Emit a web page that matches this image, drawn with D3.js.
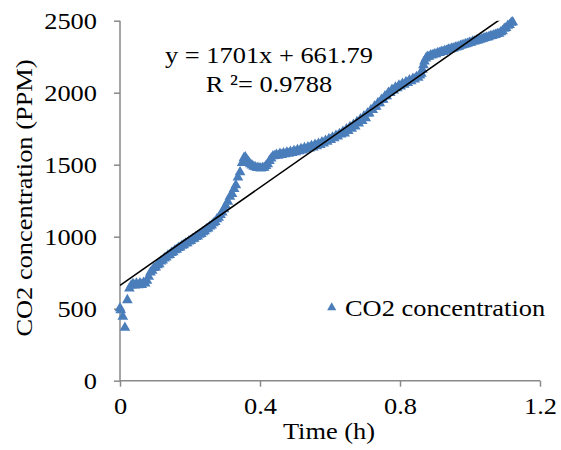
<!DOCTYPE html>
<html><head><meta charset="utf-8">
<script src="https://cdn.jsdelivr.net/npm/d3@7"></script>
<style>body{margin:0;background:#fff}</style>
</head><body>
<svg id="c" width="561" height="450"></svg>
<script>
const timeH = [0.000,0.002,0.008,0.014,0.021,0.027,0.032,0.037,0.042,0.047,0.052,0.057,0.062,0.067,0.072,0.077,0.082,0.087,0.092,0.097,
0.102,0.107,0.112,0.117,0.122,0.127,0.132,0.137,0.142,0.147,0.152,0.157,0.162,0.167,0.172,0.177,0.182,0.187,0.192,0.197,
0.202,0.207,0.212,0.217,0.222,0.227,0.232,0.237,0.242,0.247,0.252,0.257,0.262,0.267,0.272,0.277,0.282,0.287,0.292,0.297,
0.302,0.308,0.314,0.320,0.326,0.331,0.337,0.343,0.349,0.354,0.358,0.362,0.367,0.372,0.377,0.382,0.387,0.392,0.397,0.402,
0.407,0.412,0.417,0.422,0.427,0.432,0.437,0.442,0.447,0.452,0.457,0.462,0.467,0.472,0.477,0.482,0.487,0.492,0.497,0.502,
0.507,0.512,0.517,0.522,0.527,0.532,0.537,0.542,0.547,0.552,0.557,0.562,0.567,0.572,0.577,0.582,0.587,0.592,0.597,0.602,
0.607,0.612,0.617,0.622,0.627,0.632,0.637,0.642,0.647,0.652,0.657,0.662,0.667,0.672,0.677,0.682,0.687,0.692,0.697,0.702,
0.707,0.712,0.717,0.722,0.727,0.732,0.737,0.742,0.747,0.752,0.757,0.762,0.767,0.772,0.777,0.782,0.787,0.792,0.797,0.802,
0.807,0.812,0.817,0.822,0.827,0.832,0.837,0.842,0.847,0.852,0.857,0.861,0.864,0.867,0.870,0.874,0.878,0.883,0.888,0.893,
0.898,0.903,0.908,0.913,0.918,0.923,0.928,0.933,0.938,0.943,0.948,0.953,0.958,0.963,0.968,0.973,0.978,0.983,0.988,0.993,
0.998,1.003,1.008,1.013,1.018,1.023,1.028,1.033,1.038,1.043,1.048,1.053,1.058,1.063,1.068,1.073,1.078,1.083,1.088,1.093,
1.098,1.103,1.108,1.113,1.118,1.122];
const co2 = [503,490,445,368,560,641,662,672,661,675,664,677,666,680,676,694,722,752,764,783,
787,803,810,828,835,850,856,870,874,888,893,906,910,922,926,938,942,953,956,968,
970,983,986,998,1002,1014,1020,1032,1038,1052,1058,1072,1078,1094,1102,1122,1132,1152,1168,1192,
1216,1244,1278,1298,1332,1358,1412,1448,1512,1546,1552,1534,1520,1504,1496,1486,1483,1477,1477,1474,
1477,1479,1491,1504,1527,1543,1559,1561,1570,1563,1576,1568,1580,1573,1585,1577,1590,1582,1596,1587,
1602,1594,1609,1600,1616,1606,1622,1614,1630,1621,1638,1629,1646,1638,1656,1648,1666,1660,1678,1672,
1690,1684,1702,1696,1714,1710,1730,1718,1746,1734,1762,1750,1778,1766,1796,1786,1816,1804,1836,1824,
1856,1856,1880,1880,1904,1904,1928,1928,1952,1952,1976,1976,2000,1998,2020,2016,2036,2032,2050,2044,
2062,2056,2074,2068,2086,2080,2098,2092,2110,2104,2120,2132,2160,2192,2218,2238,2250,2250,2260,2260,
2268,2268,2276,2276,2284,2284,2292,2292,2300,2300,2308,2308,2314,2316,2320,2326,2330,2334,2338,2340,
2348,2348,2356,2356,2362,2364,2368,2372,2376,2380,2384,2386,2392,2394,2400,2402,2408,2410,2420,2428,
2444,2450,2466,2470,2486,2490];
const xTicks = [0, 0.4, 0.8, 1.2];
const yTicks = [0, 500, 1000, 1500, 2000, 2500];
const trendSlope = 1701, trendIntercept = 661.79;
const seriesName = "CO2 concentration";
const eqLines = ["y = 1701x + 661.79", "R \u00B2= 0.9788"];
const xTitle = "Time (h)", yTitle = "CO2 concentration (PPM)";

const FONT = '"Liberation Serif"';
const FS = 24;
const svg = d3.select("#c");
const x = d3.scaleLinear().domain([0, 1.2]).range([120, 540]);
const y = d3.scaleLinear().domain([0, 2500]).range([380.7, 20.7]);
const axisCol = "#898989";

svg.append("defs").append("clipPath").attr("id","clip").append("rect")
  .attr("x",120).attr("y",20.7).attr("width",420).attr("height",360);

// axes
const gx = svg.append("g").attr("transform","translate(0,380.7)")
  .call(d3.axisBottom(x).tickValues(xTicks).tickFormat(d=>String(d)).tickSize(6).tickPadding(10));
const gy = svg.append("g").attr("transform","translate(120,0)")
  .call(d3.axisLeft(y).tickValues(yTicks).tickFormat(d=>String(d)).tickSize(6).tickPadding(17));
[gx,gy].forEach(g=>{
  g.select(".domain").attr("stroke",axisCol).attr("stroke-width",1.5);
  g.selectAll(".tick line").attr("stroke",axisCol).attr("stroke-width",1.5);
  g.selectAll(".tick text").attr("fill","#000");
});
gx.select(".domain").attr("d","M120,0H540");
gy.select(".domain").attr("d","M0,20.7V380.7");

// data points
const tri = d3.symbol().type(d3.symbolTriangle).size(50);
svg.append("g").selectAll("path").data(timeH.map((t,i)=>[t,co2[i]])).join("path")
  .attr("d", tri).attr("fill","#4A7EBB")
  .attr("transform", d=>`translate(${x(d[0])},${y(d[1])})`);

// trendline
const t0 = d3.min(timeH), t1 = d3.max(timeH);
svg.append("line").attr("clip-path","url(#clip)")
  .attr("x1",x(t0)).attr("y1",y(trendSlope*t0+trendIntercept))
  .attr("x2",x(t1)).attr("y2",y(trendSlope*t1+trendIntercept))
  .attr("stroke","#000").attr("stroke-width",1.6);

const txt = svg.append("g");
txt.append("text").attr("x",269).attr("y",63).attr("text-anchor","middle").text(eqLines[0]);
txt.append("text").attr("x",269).attr("y",91.5).attr("text-anchor","middle").text(eqLines[1]);

svg.append("path").attr("d", d3.symbol().type(d3.symbolTriangle).size(36)).attr("fill","#4A7EBB")
  .attr("transform","translate(331.7,307.5)");
txt.append("text").attr("x",345).attr("y",316).text(seriesName);

txt.append("text").attr("x",329).attr("y",439).attr("text-anchor","middle").text(xTitle);
txt.append("text").attr("transform","translate(32,198) rotate(-90)").attr("text-anchor","middle").text(yTitle);

// font styling + slight horizontal widening to match reference glyph widths
svg.selectAll("text").each(function(){
  const t = d3.select(this);
  t.style("font-family", FONT).style("font-size", FS + "px").style("fill", "#000");
  const w = this.getComputedTextLength();
  t.attr("textLength", w * 1.1).attr("lengthAdjust", "spacingAndGlyphs");
});
</script>
</body></html>
